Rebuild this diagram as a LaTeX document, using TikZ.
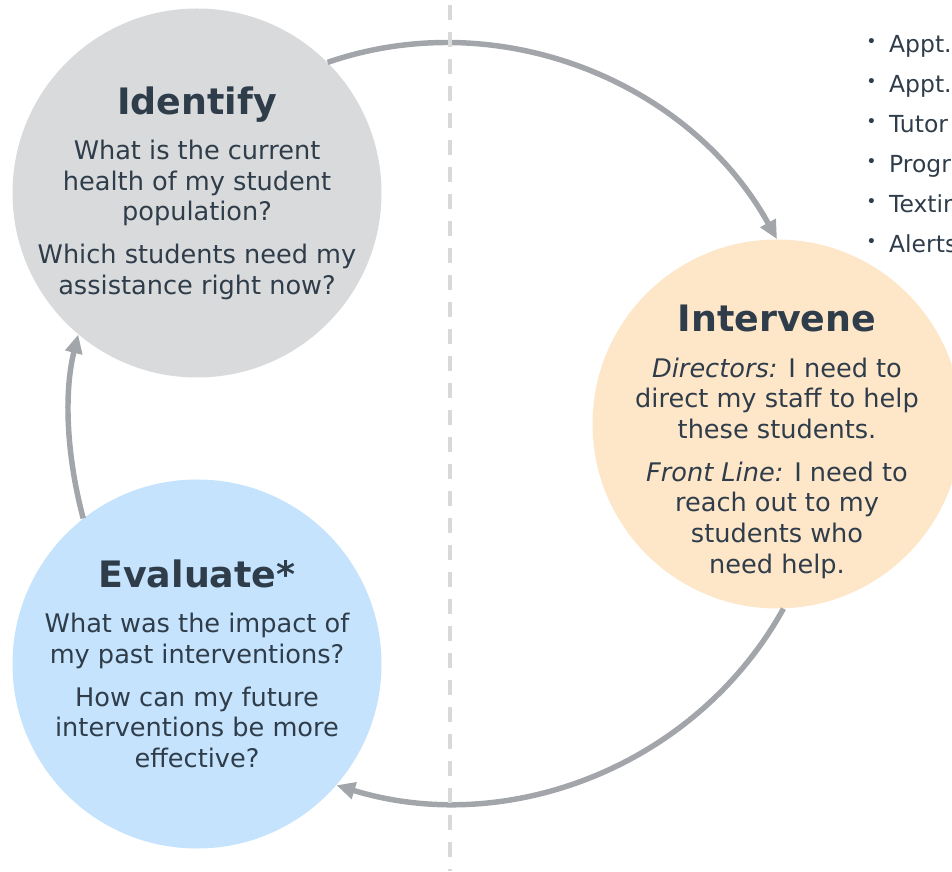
\documentclass[tikz,border=0pt]{standalone}
\usepackage{fontspec}
\setmainfont{DejaVu Sans}
\usetikzlibrary{arrows.meta,positioning}
\definecolor{idgray}{HTML}{D9DADC}
\definecolor{evalblue}{HTML}{C5E3FC}
\definecolor{intpeach}{HTML}{FEE6C9}
\definecolor{cyclegray}{HTML}{A2A5AA}
\definecolor{inkslate}{HTML}{2F3D4A}
\definecolor{splitgray}{HTML}{D9D9D9}
\newcommand{\phasename}[1]{{\fontsize{27.3}{30}\selectfont\bfseries #1}}
\newcommand{\tooldot}{\raisebox{3.5pt}{\fontsize{13}{13}\selectfont •}\hspace{9.5pt}}
\tikzset{phase/.style={circle, minimum size=276.75pt, inner sep=0pt}, % the three big discs
phasetext/.style={align=center, text=inkslate, inner sep=0pt, font=\fontsize{19.2}{23}\selectfont}, % questions inside a disc
cycle/.style={draw=cyclegray, line width=4.1pt, -{Triangle[length=14pt,width=12.5pt]}}, % arrows round the ring
split/.style={draw=splitgray, line width=3pt, dash pattern=on 11.25pt off 9pt}, % divider down the middle
}

\begin{document}
\begin{tikzpicture}[x=0.75pt, y=0.75pt]
\useasboundingbox (0,0) rectangle (952,871);
\clip (0,0) rectangle (952,871);
\node[phase, fill=idgray] (identify) at (197,678) {};
\node[phase, fill=evalblue] (evaluate) at (197,207) {};
\node[phase, fill=intpeach] (intervene) at (777,447) {};
\node[phasetext] (identify text) at (identify) {\phasename{Identify}\\[11pt]
What is the current\\ health of my student\\ population?\\[9pt]
Which students need my\\ assistance right now?};
\node[phasetext] (evaluate text) at (evaluate) {\phasename{Evaluate*}\\[11pt]
What was the impact of\\ my past interventions?\\[9pt]
How can my future\\ interventions be more\\ effective?};
\node[phasetext] (intervene text) at ([yshift=-13.5pt]intervene.center) {\phasename{Intervene}\\[11pt]
\textit{Directors:} I need to\\ direct my staff to help\\ these students.\\[9pt]
\textit{Front Line:} I need to\\ reach out to my\\ students who\\ need help.};
\node[anchor=north west, align=left, inner sep=0pt, text=inkslate, font=\fontsize{17.6}{30}\selectfont] (tools) at (866,836)
{\tooldot Appt.\\ \tooldot Appt.\\ \tooldot Tutor\\ \tooldot Progr\\ \tooldot Textin\\ \tooldot Alerts};
\draw[cycle] (identify.45) to[out=19, in=119, looseness=0.96] (intervene.north);
\draw[cycle] (intervene.-88) to[out=-119, in=-17, looseness=0.96] (evaluate.-41);
\draw[cycle] (evaluate.128) to[out=105, in=256, looseness=0.86] (identify.230);
\draw[split] (450,866) -- (450,0);
\end{tikzpicture}
\end{document}
